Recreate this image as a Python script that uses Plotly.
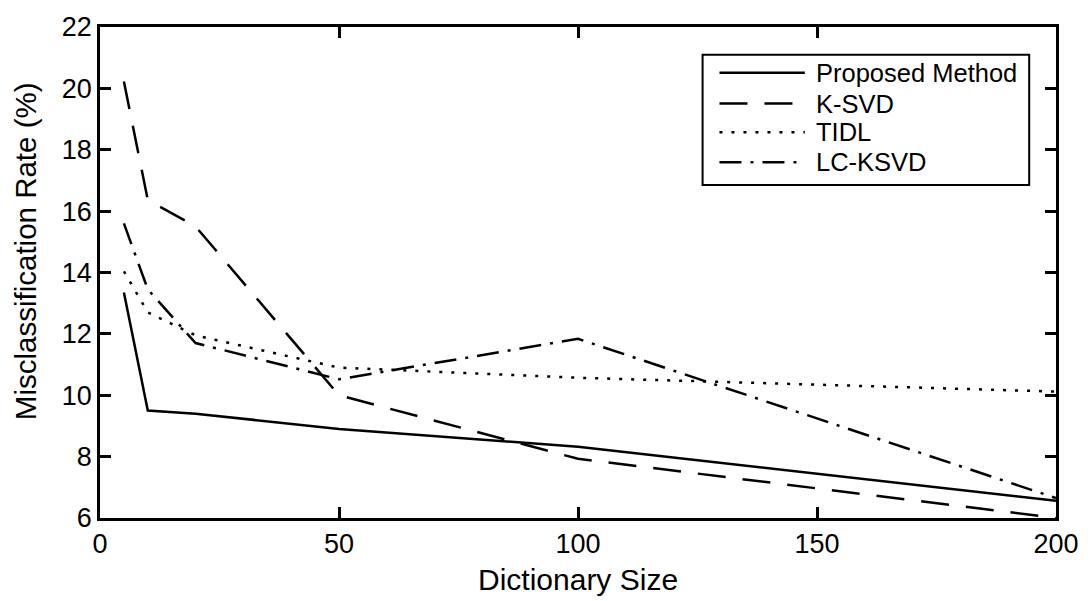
import plotly.graph_objects as go

# ---- data ----
dict_size = [5, 10, 20, 50, 100, 200]
proposed = [13.35, 9.5, 9.4, 8.9, 8.32, 6.56]
ksvd = [20.22, 16.36, 15.5, 10.0, 7.93, 6.0]
tidl = [14.04, 12.7, 11.95, 10.9, 10.57, 10.12]
lcksvd = [15.6, 13.45, 11.7, 10.52, 11.84, 6.65]

series_names = ["Proposed Method", "K-SVD", "TIDL", "LC-KSVD"]
x_ticks = [0, 50, 100, 150, 200]
y_ticks = [6, 8, 10, 12, 14, 16, 18, 20, 22]

# ---- styles ----
W, H = 1091, 601
L, R, T, B = 100, 1063, 24, 518  # plot area in pixels
FONT = "Liberation Sans, Arial, Helvetica, sans-serif"
LW = 2.5
dashes = ["solid", "28px,17px", "3px,9px", "22px,9px,3px,9px"]

def px(xp):
    return (xp - L) / (R - L)

def py(yp):
    return (B - yp) / (B - T)

fig = go.Figure()
for name, vals, dash in zip(series_names, [proposed, ksvd, tidl, lcksvd], dashes):
    fig.add_trace(go.Scatter(x=dict_size, y=vals, mode="lines", name=name,
                             line=dict(color="black", width=LW, dash=dash),
                             showlegend=False))

axis_common = dict(showgrid=False, zeroline=False, showline=True, linecolor="black",
                   linewidth=2.5, mirror="ticks", ticks="inside", ticklen=11,
                   tickwidth=2.5, tickcolor="black",
                   tickfont=dict(family=FONT, size=27, color="black"))

fig.update_xaxes(range=[0, 200], tickvals=x_ticks, **axis_common)
fig.update_yaxes(range=[6, 22], tickvals=y_ticks, **axis_common)

shapes = []
annotations = []
# legend box
shapes.append(dict(type="rect", xref="paper", yref="paper",
                   x0=px(707), x1=px(1036), y0=py(183), y1=py(52),
                   line=dict(color="black", width=2), fillcolor="white", layer="above"))
row_y = [70, 101, 130, 160]
for name, dash, ry in zip(series_names, dashes, row_y):
    shapes.append(dict(type="line", xref="paper", yref="paper",
                       x0=px(724), x1=px(810), y0=py(ry), y1=py(ry),
                       line=dict(color="black", width=LW, dash=dash), layer="above"))
    annotations.append(dict(text=name, xref="paper", yref="paper", x=px(819), y=py(ry),
                            xanchor="left", yanchor="middle", showarrow=False,
                            font=dict(family=FONT, size=25.5, color="black")))

annotations.append(dict(text="Dictionary Size", xref="paper", yref="paper",
                        x=px(582), y=py(580), xanchor="center", yanchor="middle",
                        showarrow=False, font=dict(family=FONT, size=30, color="black")))
annotations.append(dict(text="Misclassification Rate (%)", xref="paper", yref="paper",
                        x=px(25), y=py(250), xanchor="center", yanchor="middle",
                        textangle=-90, showarrow=False,
                        font=dict(family=FONT, size=29.5, color="black")))

fig.update_layout(width=W, height=H, margin=dict(l=L, r=W - R, t=T, b=H - B),
                  plot_bgcolor="white", paper_bgcolor="white",
                  font=dict(family=FONT, color="black"),
                  shapes=shapes, annotations=annotations)

fig.write_html("out.html")
